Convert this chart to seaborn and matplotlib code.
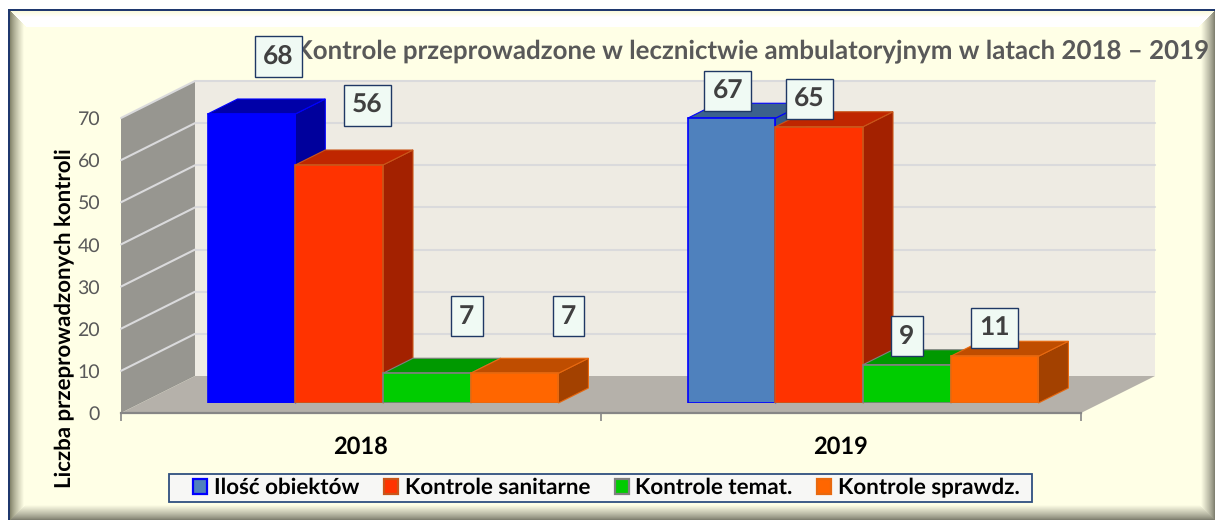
import numpy as np
import pandas as pd
import seaborn as sns
import matplotlib
matplotlib.use("Agg")
import matplotlib.pyplot as plt
from matplotlib.patches import Polygon, Rectangle
from matplotlib.transforms import IdentityTransform

years = ["2018", "2019"]
series = ["Ilość obiektów", "Kontrole sanitarne", "Kontrole temat.", "Kontrole sprawdz."]
obiekty = [68, 67]
sanitarne = [56, 65]
tematyczne = [7, 9]
sprawdzajace = [7, 11]
title = "Kontrole przeprowadzone w lecznictwie ambulatoryjnym w latach 2018 – 2019"
ylabel = "Liczba przeprowadzonych kontroli"

df = pd.DataFrame({
    "rok": years * 4,
    "seria": [s for s in series for _ in years],
    "wartosc": obiekty + sanitarne + tematyczne + sprawdzajace,
})

W, H = 1215, 520
sns.set_theme(style="white")
plt.rcParams["font.family"] = ["Lato", "DejaVu Sans"]
plt.rcParams["text.hinting"] = "no_hinting"
fig = plt.figure(figsize=(W / 100, H / 100), dpi=100, facecolor="white")


def axes_px(x0, x1, ytop, ybot, **kw):
    return fig.add_axes([x0 / W, 1 - ybot / H, (x1 - x0) / W, (ybot - ytop) / H], **kw)


# ---------- bevelled frame ----------
bg = fig.add_axes([0, 0, 1, 1], zorder=0)
yy, xx = np.mgrid[0:H, 0:W] + 0.5
base_c = np.array([255, 255, 230]) / 255
img = np.ones((H, W, 3)) * base_c
L, T = 10, 11
dl, dr, dt, db = xx - L, W - xx, yy - T, H - yy
near = np.argmin(np.stack([dl, dr, dt, db]), axis=0)


def shade(mask, d, width, edge, inner):
    t = np.clip(d / width, 0, 1)[..., None] ** 0.8
    col = np.array(edge) / 255 * (1 - t) + np.array(inner) / 255 * t
    m = mask & (d < width)
    img[m] = col[m]


shade(near == 0, dl, 14, (125, 125, 100), (255, 255, 230))
shade(near == 1, dr, 14, (120, 120, 105), (255, 255, 230))
shade(near == 3, db, 15, (120, 120, 105), (255, 255, 230))
shade(near == 2, dt, 6, (250, 250, 215), (255, 255, 255))
img[(near == 2) & (dt >= 6) & (dt < 16)] = (1, 1, 1)
img[xx < L - 2] = 1
img[yy < T - 2] = 1
img[(xx >= L - 2) & (xx < L) & (yy >= T - 2)] = np.array([31, 56, 110]) / 255
img[(yy >= T - 2) & (yy < T) & (xx >= L - 2)] = np.array([31, 56, 110]) / 255
bg.imshow(img, extent=(0, W, H, 0), aspect="auto", interpolation="nearest")
bg.axis("off")

# ---------- front plane axes: value scale, walls ----------
base = axes_px(121, 1081, 118, 413, zorder=1)
base.patch.set_visible(False)
base.set_xlim(-0.5, 1.5)
base.set_ylim(0, 70)
DX, DY = 74, 37   # chart depth in pixels
IDT = IdentityTransform()


def px(ax, x, y):
    return ax.transData.transform((x, y))


def add_px(ax, pts, **kw):
    ax.add_patch(Polygon(pts, closed=True, transform=IDT, clip_on=False, **kw))


ticks = list(range(0, 71, 10))
p00, p10, p01 = px(base, -0.5, 0), px(base, 1.5, 0), px(base, -0.5, 70)
d = np.array([DX, DY])
add_px(base, [p00 + d, p10 + d, px(base, 1.5, 70) + d, p01 + d], fc="#EEEBE3", ec="none", zorder=0.5)
add_px(base, [p00, p01, p01 + d, p00 + d], fc="#979690", ec="none", zorder=0.6)
add_px(base, [p00, p10, p10 + d, p00 + d], fc="#B5B1AA", ec="none", zorder=0.7)
for t in ticks[1:]:
    a, b = px(base, -0.5, t), px(base, 1.5, t)
    base.plot(*np.array([a, a + d]).T, transform=IDT, color="#DADADC", lw=1.5, clip_on=False, zorder=0.65)
    base.plot(*np.array([a + d, b + d]).T, transform=IDT, color="#DADADC", lw=1.5, clip_on=False, zorder=0.55)

for s in ("top", "right", "left"):
    base.spines[s].set_visible(False)
base.spines["bottom"].set_color("#868686")
base.spines["bottom"].set_linewidth(1.6)
base.set_yticks(ticks)
base.tick_params(axis="y", length=0, pad=15, labelsize=14, labelcolor="#595959")
base.set_xticks([-0.5, 0.5, 1.5])
base.set_xticklabels([])
base.tick_params(axis="x", which="major", bottom=True, length=6, width=1.2, color="#868686")
base.set_xticks([0, 1], labels=years, minor=True)
base.tick_params(axis="x", which="minor", bottom=False, length=0, pad=16.5, labelsize=17, labelcolor="black")
for lab in base.get_xticklabels(minor=True):
    lab.set_fontweight("bold")
base.set_ylabel(ylabel, fontsize=16, fontweight="bold", color="black")
base.yaxis.set_label_coords((75 - 121) / 960, (413 - 318) / 295)
base.set_title(title, x=(295 - 121) / 960, y=(413 - 68) / 295, ha="left",
               fontsize=18.6, fontweight="bold", color="#595959")

# ---------- bars ----------
SCALE = 4.25
bars = axes_px(143, 1103, 403 - 70 * SCALE, 403, zorder=2)
bars.patch.set_visible(False)
front = ["#4F81BD", "#FF3300", "#00CC00", "#FF6600"]
edges = ["#0000FF", "#C9561A", "#808080", "#E8690F"]
tops = ["#3B618D", "#BF2600", "#009900", "#BF4D00"]
sides = ["#335A88", "#A32100", "#008400", "#A34100"]
sns.barplot(data=df, x="rok", y="wartosc", hue="seria", hue_order=series, order=years,
            palette=front, width=0.731, gap=0, saturation=1, ax=bars, legend=True, errorbar=None)
bars.set_xlim(-0.5, 1.5)
bars.set_ylim(0, 70)

BX, BY = 30, 15
label_offsets = [[(27, 57.5), (-3.5, 27)], [(28.5, 59.5), (-9.5, 27.5)],
                 [(40, 57), (0, 28.5)], [(54, 57), (0, 28.5)]]
z = 3
for i, cont in enumerate(bars.containers):
    for j, rect in enumerate(cont.patches):
        fc, top_c, side_c = front[i], tops[i], sides[i]
        if i == 0 and j == 0:  # the 2018 bar is pure blue in the original
            fc, top_c, side_c = "#0000FF", "#0000A8", "#00009C"
        x0, x1 = rect.get_x(), rect.get_x() + rect.get_width()
        h = rect.get_height()
        bl, br, tl, tr = px(bars, x0, 0), px(bars, x1, 0), px(bars, x0, h), px(bars, x1, h)
        o = np.array([BX, BY])
        add_px(bars, [br, tr, tr + o, br + o], fc=side_c, ec=edges[i], lw=0.8, zorder=z)
        add_px(bars, [tl, tr, tr + o, tl + o], fc=top_c, ec=edges[i], lw=0.8, zorder=z)
        rect.set(facecolor=fc, edgecolor=edges[i], linewidth=1.2, zorder=z + 0.5)
        z += 1

for i, cont in enumerate(bars.containers):
    for j, rect in enumerate(cont.patches):
        bars.annotate(str(int(rect.get_height())),
                      xy=(rect.get_x() + rect.get_width() / 2, rect.get_height()),
                      xytext=label_offsets[i][j], textcoords="offset pixels",
                      ha="center", va="center", fontsize=19, fontweight="bold", color="#404040",
                      annotation_clip=False, zorder=50,
                      bbox=dict(boxstyle="square,pad=0.31", fc="#F0FAF4", ec="#1F3864", lw=1))

# legend frame is a separate box: its left padding is wider than the right one
fig.add_artist(Rectangle((169, H - 502), 863, 28, transform=IDT, fc="#F7F7F5",
                         ec="#2F4F7F", lw=1.3, zorder=1.5))
sns.move_legend(bars, loc="center", bbox_to_anchor=(606.5, H - 488), bbox_transform=IDT,
                ncol=4, title=None, frameon=False, fontsize=16.1,
                handlelength=0.63, handleheight=0.63, handletextpad=0.3, columnspacing=1.09,
                borderpad=0, borderaxespad=0)
leg = bars.get_legend()
leg.set_zorder(60)
for t in leg.get_texts():
    t.set_fontweight("bold")
    t.set_color("black")
for h, fc, ec in zip(leg.get_patches(), front, edges):
    h.set(facecolor=fc, edgecolor=ec, linewidth=1.6)

bars.axis("off")
leg.set_visible(True)
fig.savefig("out.png", dpi=100, facecolor="white")
